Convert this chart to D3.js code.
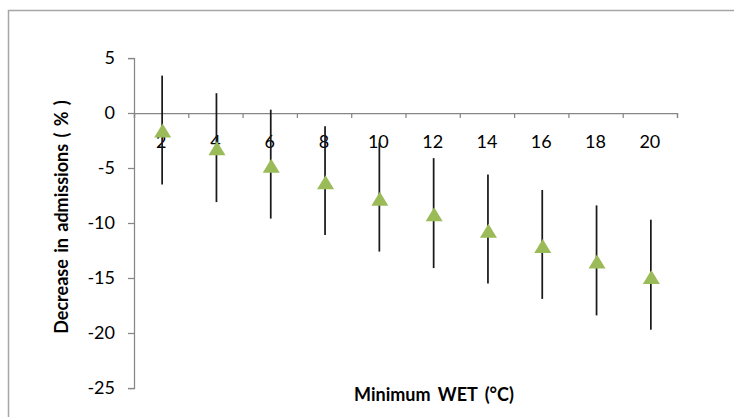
<!DOCTYPE html>
<html>
<head>
<meta charset="utf-8">
<script src="https://cdn.jsdelivr.net/npm/d3@7"></script>
<style>
  body { margin: 0; background: #fff; }
  svg { display: block; }
  .tick text { font-family: Lato, "Open Sans", sans-serif; font-size: 18px; fill: #000; }
</style>
</head>
<body>
<div id="chart"></div>
<script>
// data
var temps = ["2", "4", "6", "8", "10", "12", "14", "16", "18", "20"];
var decrease = [-1.6, -3.2, -4.8, -6.3, -7.8, -9.2, -10.7, -12.1, -13.5, -14.9];
var lower = [-6.5, -8.1, -9.6, -11.1, -12.6, -14.1, -15.5, -16.9, -18.4, -19.7];
var upper = [3.4, 1.8, 0.3, -1.2, -2.7, -4.1, -5.6, -7.0, -8.4, -9.7];
var yTicks = [5, 0, -5, -10, -15, -20, -25];

var W = 734, H = 417;
// plot area (window.top is reserved, so use other names)
var plotL = 134, plotR = 677, plotT = 58, plotB = 388;

var svg = d3.select("#chart").append("svg")
  .attr("width", W)
  .attr("height", H);

// outer chart border (runs off the right and bottom edges)
svg.append("rect")
  .attr("x", 8.5).attr("y", 10.5)
  .attr("width", 900).attr("height", 600)
  .style("fill", "none")
  .style("stroke", "#a6a6a6")
  .style("stroke-width", 1.5);

var y = d3.scaleLinear().domain([-25, 5]).range([plotB, plotT]);
var x = d3.scaleBand().domain(temps).range([plotL, plotR]).padding(0);
var xEdge = d3.scaleLinear().domain([0, temps.length]).range([plotL, plotR]);

// y axis
var yAxis = svg.append("g")
  .attr("transform", "translate(" + plotL + ",0)")
  .call(d3.axisLeft(y).tickValues(yTicks).tickSize(6).tickPadding(13));
yAxis.select(".domain").attr("stroke", "#868686").attr("stroke-width", 1.25);
yAxis.selectAll(".tick line").attr("stroke", "#868686").attr("stroke-width", 1.25);
yAxis.selectAll(".tick text").text(function (d) { return d < 0 ? "-" + Math.abs(d) : d; });

// x axis sits at zero, ticks between categories
var xAxis = svg.append("g")
  .attr("transform", "translate(0," + y(0) + ")")
  .call(d3.axisBottom(xEdge).tickValues(d3.range(0, temps.length + 1)).tickSize(5).tickFormat(""));
xAxis.select(".domain").attr("stroke", "#868686").attr("stroke-width", 1.25);
xAxis.selectAll(".tick line").attr("stroke", "#868686").attr("stroke-width", 1.25);

// category labels
svg.append("g").selectAll("text")
  .data(temps)
  .enter().append("text")
  .attr("x", function (d) { return x(d) + x.bandwidth() / 2; })
  .attr("y", 142)
  .attr("dy", "0.35em")
  .attr("text-anchor", "middle")
  .style("font-family", "Lato, 'Open Sans', sans-serif")
  .style("font-size", "18px")
  .text(function (d) { return d; });

// error bars
svg.append("g").selectAll("line")
  .data(temps)
  .enter().append("line")
  .attr("x1", function (d) { return x(d) + x.bandwidth() / 2 + 1; })
  .attr("x2", function (d) { return x(d) + x.bandwidth() / 2 + 1; })
  .attr("y1", function (d, i) { return y(upper[i]); })
  .attr("y2", function (d, i) { return y(lower[i]); })
  .style("stroke", "#1a1a1a")
  .style("stroke-width", 1.75);

// triangle markers
var tri = "M0,-7 L8.5,7 L-8.5,7 Z";
svg.append("g").selectAll("path")
  .data(temps)
  .enter().append("path")
  .attr("d", tri)
  .attr("transform", function (d, i) {
    return "translate(" + (x(d) + x.bandwidth() / 2 + 1.5) + "," + y(decrease[i]) + ")";
  })
  .style("fill", "#9bbb59");

// axis titles
svg.append("text")
  .attr("x", 434)
  .attr("y", 395)
  .attr("dy", "0.35em")
  .attr("text-anchor", "middle")
  .style("font-family", "Lato, 'Open Sans', sans-serif")
  .style("font-weight", "bold")
  .style("font-size", "18px")
  .style("word-spacing", "3px")
  .text("Minimum WET (°C)");

svg.append("text")
  .attr("transform", "translate(62,217) rotate(-90)")
  .attr("dy", "0.35em")
  .attr("text-anchor", "middle")
  .style("font-family", "Lato, 'Open Sans', sans-serif")
  .style("font-weight", "bold")
  .style("font-size", "18px")
  .style("word-spacing", "2px")
  .text("Decrease in admissions ( % )");
</script>
</body>
</html>
